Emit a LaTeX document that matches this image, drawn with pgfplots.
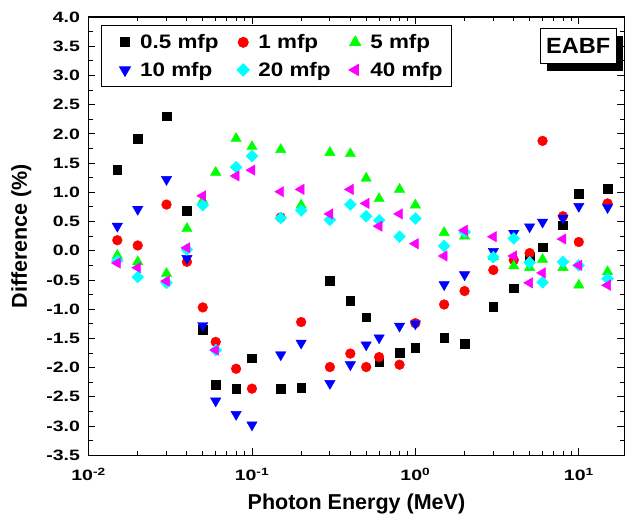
\documentclass[border=0pt]{standalone}
\usepackage{fontspec}
\setmainfont{Liberation Sans}
\newfontfamily\tickfont{Liberation Sans}[FakeStretch=1.3]
\newfontfamily\legfont{Liberation Sans}[FakeStretch=1.15]
\newfontfamily\boxfont{Liberation Sans}[FakeStretch=1.07]
\usepackage{pgfplots}
\usepackage{pgfplotstable}
\pgfplotsset{compat=1.18}
\usetikzlibrary{shadows}

\definecolor{cBlack}{RGB}{0,0,0}
\definecolor{cRed}{RGB}{255,0,0}
\definecolor{cGreen}{RGB}{0,255,0}
\definecolor{cBlue}{RGB}{0,0,255}
\definecolor{cCyan}{RGB}{0,255,255}
\definecolor{cMagenta}{RGB}{255,0,255}

% Difference (%) of EABF values for several penetration depths
\pgfplotstableread{
E     s05    s1     s5     s10    s20    s40
0.015  1.39   0.18  -0.08   0.42  -0.17  -0.21
0.02   1.92   0.09  -0.19   0.71  -0.45  -0.29
0.03   2.30   0.79  -0.39   1.22  -0.55  -0.52
0.04   0.69  -0.19   0.38  -0.13   0.02   0.05
0.05  -1.35  -0.97   0.86  -1.28   0.78   0.94
0.06  -2.29  -1.56   1.34  -2.57  -1.70  -1.70
0.08  -2.36  -2.02   1.92  -2.80   1.43   1.28
0.1   -1.84  -2.36   1.78  -2.98   1.62   1.38
0.15  -2.36   0.57   1.73  -1.78   0.56   1.01
0.2   -2.34  -1.22   0.78  -1.58   0.69   1.05
0.3   -0.51  -1.99   1.68  -2.27   0.53   0.63
0.4   -0.85  -1.76   1.66  -1.95   0.79   1.05
0.5   -1.14  -1.99   1.24  -1.61   0.59   0.81
0.6   -1.91  -1.82   0.89  -1.49   0.52   0.42
0.8   -1.75  -1.95   1.05  -1.29   0.24   0.63
1     -1.66  -1.24   0.78  -1.25   0.55   0.12
1.5   -1.49  -0.92   0.31  -0.58   0.08  -0.09
2     -1.59  -0.69   0.25  -0.41   0.32   0.35
3     -0.96  -0.33  -0.10  -0.01  -0.11   0.24
4     -0.64  -0.16  -0.26   0.30   0.21  -0.09
5     -0.10  -0.04  -0.29   0.41  -0.20  -0.55
6      0.06   1.88  -0.15   0.49  -0.54  -0.38
8      0.44   0.59  -0.29   0.56  -0.19   0.20
10     0.98   0.15  -0.59   0.76  -0.25  -0.25
15     1.06   0.81  -0.36   0.74  -0.48  -0.59
}\datatable

\begin{document}
\begin{tikzpicture}
\begin{axis}[
  scale only axis,
  width=535.5pt, height=438pt,
  xmode=log,
  xmin=0.01, xmax=19,
  ymin=-3.5, ymax=4.0,
  xtick={0.01,0.1,1,10},
  xticklabels={10\textsuperscript{-2},10\textsuperscript{-1},10\textsuperscript{0},10\textsuperscript{1}},
  ytick={-3.5,-3,...,4},
  minor y tick num=1,
  tick align=inside,
  major tick length=7pt,
  minor tick length=4pt,
  every tick/.style={black, line width=0.9pt},
  axis line style={line width=1.3pt},
  /pgf/number format/.cd, fixed, fixed zerofill, precision=1, assume math mode=true,
  /pgfplots/.cd,
  ticklabel style={font=\tickfont\fontsize{15}{18}\selectfont\bfseries},
  yticklabel style={xshift=-5pt},
  xticklabel style={yshift=-9pt},
  xlabel={Photon Energy (MeV)},
  ylabel={Difference (\%)},
  label style={font=\fontsize{21.5}{25}\selectfont\bfseries},
  xlabel style={at={(axis description cs:0.5,-0.08)}, anchor=north},
  ylabel style={at={(axis description cs:-0.115,0.5)}, anchor=base},
  legend columns=3,
  legend cell align=left,
  legend image code/.code={%
    \path (0cm,0cm) (1.0cm,0cm);
    \draw[mark repeat=2,mark phase=2,#1] plot coordinates {(0cm,0cm) (0.56cm,0cm) (1.0cm,0cm)};},
  legend style={
    at={(0.023,0.982)}, anchor=north west,
    draw=black, line width=1.2pt,
    font=\legfont\fontsize{19.5}{22}\selectfont\bfseries,
    /tikz/every even column/.append style={column sep=6pt},
    inner xsep=7pt, inner ysep=7pt,
    row sep=8pt,
  },
  clip=false,
]
\addplot[only marks, mark=square*, mark size=4.3pt, cBlack, mark options={draw=none, fill=cBlack}]
  table[x=E, y=s05] {\datatable};
\addlegendentry{0.5 mfp}
\addplot[only marks, mark=*, mark size=4.9pt, cRed, mark options={draw=none, fill=cRed}]
  table[x=E, y=s1] {\datatable};
\addlegendentry{1 mfp}
\addplot[only marks, mark=triangle*, mark size=6pt, cGreen, mark options={draw=none, fill=cGreen}]
  table[x=E, y=s5] {\datatable};
\addlegendentry{5 mfp}
\addplot[only marks, mark=triangle*, mark size=6pt, cBlue, mark options={draw=none, fill=cBlue, rotate=180}]
  table[x=E, y=s10] {\datatable};
\addlegendentry{10 mfp}
\addplot[only marks, mark=square*, mark size=4.2pt, cCyan, mark options={draw=none, fill=cCyan, rotate=45}]
  table[x=E, y=s20] {\datatable};
\addlegendentry{20 mfp}
\addplot[only marks, mark=triangle*, mark size=6pt, cMagenta, mark options={draw=none, fill=cMagenta, rotate=90}]
  table[x=E, y=s40] {\datatable};
\addlegendentry{40 mfp}

\node[draw=black, line width=1pt, fill=white,
      drop shadow={shadow xshift=6.5pt, shadow yshift=-7pt, fill=black, opacity=1},
      font=\boxfont\fontsize{22}{26}\selectfont\bfseries, inner xsep=6pt, inner ysep=10pt]
  at (rel axis cs:0.914,0.933) {EABF};

% white margin around the figure
\path (rel axis cs:0,1) ++(-88.5pt,17pt);
\path (rel axis cs:1,0) ++(0pt,-67pt);
\end{axis}
\end{tikzpicture}
\end{document}
